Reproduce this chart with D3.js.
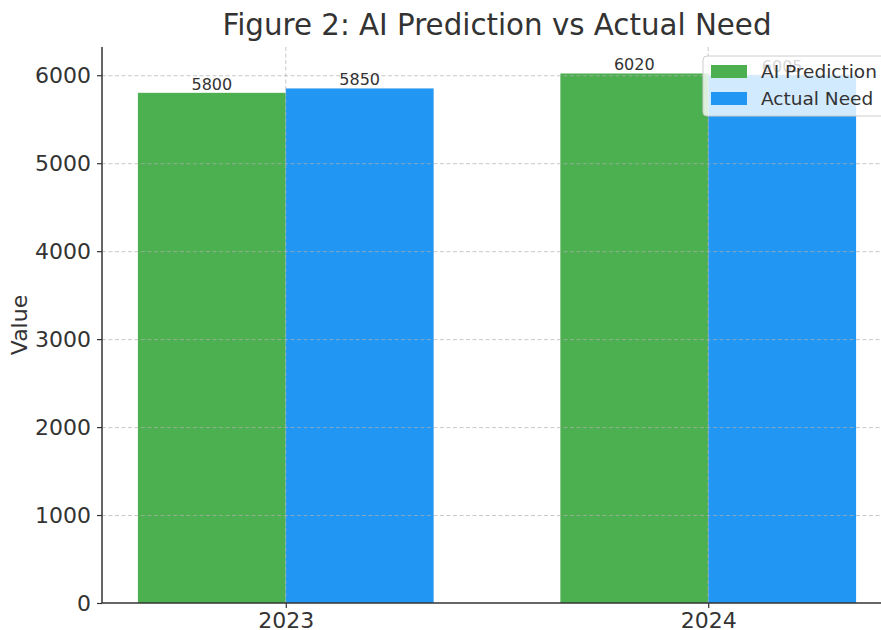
<!DOCTYPE html>
<html>
<head>
<meta charset="utf-8">
<script src="https://cdn.jsdelivr.net/npm/d3@7"></script>
<style>
  body { margin: 0; background: #fff; }
  svg { display: block; font-family: "DejaVu Sans", sans-serif; }
</style>
</head>
<body>
<svg id="chart" width="881" height="630"></svg>
<script>
var years = ['2023', '2024'];
var seriesNames = ['AI Prediction', 'Actual Need'];
var aiPrediction = [5800, 6020];
var actualNeed = [5850, 6005];
var yTicks = [0, 1000, 2000, 3000, 4000, 5000, 6000];
var colors = ['#4caf50', '#2196f3'];

var svg = d3.select('#chart');
var plotLeft = 102, plotRight = 892, plotTop = 47, plotBottom = 603;
var textColor = '#333333';

// x position in category units, like matplotlib's index axis
var x = d3.scaleLinear().domain([-0.435, 1.435]).range([plotLeft, plotRight]);
var y = d3.scaleLinear().domain([0, 6321]).range([plotBottom, plotTop]);
var barW = 0.35;

var values = [aiPrediction, actualNeed];

// bars
values.forEach(function (vals, s) {
    svg.append('g')
        .selectAll('rect')
        .data(vals)
        .enter()
        .append('rect')
        .attr('x', function (d, i) { return x(i + (s - 1) * barW); })
        .attr('width', x(barW) - x(0))
        .attr('y', function (d) { return y(d); })
        .attr('height', function (d) { return plotBottom - y(d); })
        .attr('fill', colors[s]);
});

// grid on top of bars
var grid = svg.append('g')
    .attr('stroke', '#b0b0b0')
    .attr('stroke-opacity', 0.7)
    .attr('stroke-width', 1)
    .attr('stroke-dasharray', '4,2.5');
grid.selectAll('line.h')
    .data(yTicks.slice(1))
    .enter()
    .append('line')
    .attr('x1', plotLeft).attr('x2', plotRight)
    .attr('y1', function (d) { return y(d) + 0.5; })
    .attr('y2', function (d) { return y(d) + 0.5; });
grid.selectAll('line.v')
    .data(years)
    .enter()
    .append('line')
    .attr('x1', function (d, i) { return x(i); })
    .attr('x2', function (d, i) { return x(i); })
    .attr('y1', plotTop).attr('y2', plotBottom);

// value labels
values.forEach(function (vals, s) {
    svg.append('g')
        .selectAll('text')
        .data(vals)
        .enter()
        .append('text')
        .attr('x', function (d, i) { return x(i + (s - 0.5) * barW); })
        .attr('y', function (d) { return y(d) - 3; })
        .attr('text-anchor', 'middle')
        .attr('font-size', 16)
        .attr('fill', textColor)
        .text(function (d) { return d; });
});

// axes
var yAxis = svg.append('g')
    .attr('transform', 'translate(' + plotLeft + ',0)')
    .call(d3.axisLeft(y).tickValues(yTicks).tickFormat(d3.format('d'))
        .tickSize(5).tickPadding(6));
var xAxis = svg.append('g')
    .attr('transform', 'translate(0,' + plotBottom + ')')
    .call(d3.axisBottom(x).tickValues([0, 1]).tickFormat(function (d) { return years[d]; })
        .tickSize(5).tickPadding(4));
xAxis.select('.domain').remove();
yAxis.select('.domain').remove();
[yAxis, xAxis].forEach(function (ax) {
    ax.selectAll('text').attr('font-size', 22).attr('fill', textColor)
        .attr('font-family', '"DejaVu Sans", sans-serif');
    ax.selectAll('line').attr('stroke', textColor).attr('stroke-width', 1.2);
});
svg.append('line')
    .attr('x1', plotLeft).attr('x2', plotLeft).attr('y1', plotTop).attr('y2', plotBottom)
    .attr('stroke', textColor).attr('stroke-width', 1.5);
svg.append('line')
    .attr('x1', plotLeft).attr('x2', plotRight).attr('y1', plotBottom).attr('y2', plotBottom)
    .attr('stroke', textColor).attr('stroke-width', 1.5);

// y label
svg.append('text')
    .attr('transform', 'translate(27,' + ((plotTop + plotBottom) / 2) + ') rotate(-90)')
    .attr('text-anchor', 'middle')
    .attr('font-size', 22)
    .attr('fill', textColor)
    .text('Value');

// title
svg.append('text')
    .attr('x', (plotLeft + plotRight) / 2)
    .attr('y', 35)
    .attr('text-anchor', 'middle')
    .attr('font-size', 29.3)
    .attr('fill', textColor)
    .text('Figure 2: AI Prediction vs Actual Need');

// legend
var lg = svg.append('g').attr('transform', 'translate(703,56)');
lg.append('rect')
    .attr('width', 186).attr('height', 60).attr('rx', 4)
    .attr('fill', '#ffffff').attr('fill-opacity', 0.8)
    .attr('stroke', '#cccccc');
seriesNames.forEach(function (name, i) {
    var row = lg.append('g').attr('transform', 'translate(8,' + (9 + i * 27) + ')');
    row.append('rect').attr('width', 36).attr('height', 13).attr('fill', colors[i]);
    row.append('text')
        .attr('x', 50).attr('y', 13)
        .attr('font-size', 18.5)
        .attr('fill', textColor)
        .text(name);
});
</script>
</body>
</html>
